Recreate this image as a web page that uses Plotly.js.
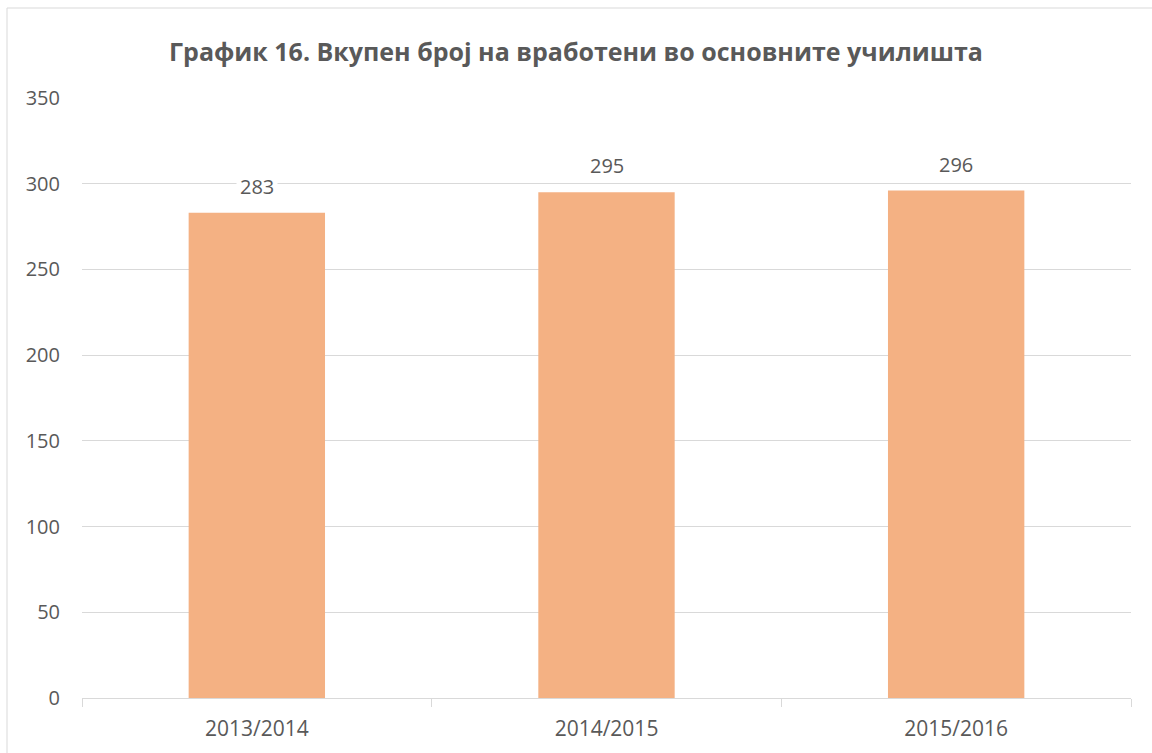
<!DOCTYPE html>
<html>
<head>
<meta charset="utf-8">
<script src="https://cdn.plot.ly/plotly-3.0.1.min.js"></script>
<style>
html,body{margin:0;padding:0;background:#fff;}
#chart{width:1152px;height:753px;}
</style>
</head>
<body>
<div id="chart"></div>
<script>
const categories = ["2013/2014", "2014/2015", "2015/2016"];
const employees = [283, 295, 296];
const yTicks = [0, 50, 100, 150, 200, 250, 300, 350];
const chartTitle = "График 16. Вкупен број на вработени во основните училишта";

const FONT = "Open Sans, sans-serif";
const GREY = "#595959";
const LINE = "#d9d9d9";

const trace = {
  type: "bar",
  x: categories,
  y: employees,
  marker: {color: "#F4B183"},
  width: 0.39,
  hoverinfo: "x+y"
};

const annotations = categories.map((c, i) => ({
  x: c, y: employees[i], xref: "x", yref: "y",
  text: String(employees[i]),
  showarrow: false,
  yanchor: "bottom",
  yshift: 9,
  bgcolor: "#ffffff",
  borderpad: 3,
  font: {family: FONT, size: 20, color: GREY}
}));

const layout = {
  width: 1152, height: 753,
  margin: {l: 82, r: 21, t: 98, b: 55},
  paper_bgcolor: "#ffffff",
  plot_bgcolor: "#ffffff",
  showlegend: false,
  title: {
    text: "<b>" + chartTitle + "</b>",
    x: 0.5, xanchor: "center",
    y: 1 - 52/753, yanchor: "middle",
    font: {family: FONT, size: 25, color: GREY}
  },
  xaxis: {
    type: "category",
    showgrid: false,
    showline: true, linecolor: LINE, linewidth: 1,
    ticks: "outside", tickson: "boundaries", ticklen: 8, tickcolor: LINE,
    ticklabelstandoff: 12,
    tickfont: {family: FONT, size: 21, color: GREY},
    fixedrange: true
  },
  yaxis: {
    range: [0, 350],
    tickvals: yTicks,
    showgrid: true, gridcolor: LINE, gridwidth: 1,
    zeroline: false, showline: false, ticks: "",
    ticklabelstandoff: 21,
    tickfont: {family: FONT, size: 20, color: GREY},
    fixedrange: true
  },
  annotations: annotations,
  shapes: [
    {type: "line", xref: "paper", yref: "paper", x0: (7-82)/1049, x1: 1.2, y0: (698-8)/600, y1: (698-8)/600, line: {color: LINE, width: 1}},
    {type: "line", xref: "paper", yref: "paper", x0: (7-82)/1049, x1: (7-82)/1049, y0: (698-8)/600, y1: -0.2, line: {color: LINE, width: 1}}
  ]
};

Plotly.newPlot("chart", [trace], layout, {displayModeBar: false, staticPlot: true});
</script>
</body>
</html>
